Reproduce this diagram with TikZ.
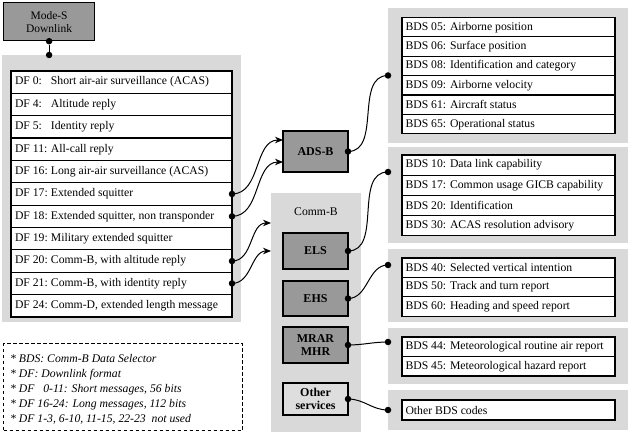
\documentclass[tikz,border=0pt]{standalone}
\usepackage{fontspec}
\setmainfont{Liberation Serif}
\usetikzlibrary{arrows.meta}
\definecolor{panelgray}{HTML}{D9D9D9}
\definecolor{boxgray}{HTML}{999999}
\definecolor{othergray}{HTML}{DEDEDE}
\begin{document}
\begin{tikzpicture}[x=1pt,y=-1pt,font=\fontsize{11.7}{14}\selectfont,
  panel/.style={fill=panelgray,inner sep=0pt,outer sep=0pt,anchor=north west},
  dfrow/.style={draw,line width=1.2pt,fill=white,anchor=north west,inner xsep=4pt,inner ysep=0pt,outer sep=0pt,
    minimum width=221pt,minimum height=22.36pt},
  bdsrow/.style={draw,line width=1.2pt,fill=white,anchor=north west,inner xsep=3.5pt,inner ysep=0pt,outer sep=0pt,
    minimum width=213pt,minimum height=#1},
  darkbox/.style={draw,line width=1.2pt,fill=boxgray,anchor=north west,inner sep=0pt,outer sep=0pt,
    minimum width=65pt,align=center,font=\fontsize{12}{13}\selectfont\bfseries},
  dotnode/.style={circle,fill=black,inner sep=0pt,minimum size=6.5pt},
  link/.style={line width=1pt},
  arr/.style={line width=1pt,-{Stealth[length=8pt,width=6.5pt]}}]
\useasboundingbox (0,0) rectangle (631,435);

% ---- Mode-S
\node[draw,line width=1.2pt,fill=boxgray,anchor=north west,minimum width=91pt,minimum height=38pt,
  inner sep=0pt,align=center,font=\fontsize{11.5}{13}\selectfont] (modes) at (3,2) {Mode-S\\Downlink};

% ---- left panel with DF rows
\node[panel,minimum width=239pt,minimum height=267pt] (dfpanel) at (2,55) {};
\foreach \txt [count=\i from 0] in {
  {\makebox[36pt][l]{DF 0:}Short air-air surveillance (ACAS)},
  {\makebox[36pt][l]{DF 4:}Altitude reply},
  {\makebox[36pt][l]{DF 5:}Identity reply},
  {\makebox[36pt][l]{DF 11:}All-call reply},
  {\makebox[36pt][l]{DF 16:}Long air-air surveillance (ACAS)},
  {\makebox[36pt][l]{DF 17:}Extended squitter},
  {\makebox[36pt][l]{DF 18:}Extended squitter, non transponder},
  {\makebox[36pt][l]{DF 19:}Military extended squitter},
  {\makebox[36pt][l]{DF 20:}Comm-B, with altitude reply},
  {\makebox[36pt][l]{DF 21:}Comm-B, with identity reply},
  {\makebox[36pt][l]{DF 24:}Comm-D, extended length message}}
  \node[dfrow] (df\i) at (11,{71+\i*22.36}) {\makebox[213pt][l]{\txt}};

\node[dotnode] (mdot1) at (modes.south) {};
\node[dotnode] (mdot2) at (modes.south |- dfpanel.north) {};
\draw[link] (mdot1) -- (mdot2);

% ---- legend
\node[draw,dashed,dash pattern=on 3.5pt off 2.5pt,line width=1pt,anchor=north west,minimum width=239pt,
  minimum height=87pt,inner sep=0pt] (legendbox) at (3,343) {};
\node[anchor=north west,align=left,inner sep=0pt,font=\fontsize{11.7}{15}\selectfont\itshape] (legendtext) at (10,354) {%
* BDS: Comm-B Data Selector\\
* DF: Downlink format\\
* DF \phantom{1}0-11: Short messages, 56 bits\\
* DF 16-24: Long messages, 112 bits\\
* DF 1-3, 6-10, 11-15, 22-23\ \ not used};

% ---- ADS-B
\node[darkbox,minimum height=41pt] (ads) at (283,131) {ADS-B};

% ---- Comm-B panel
\node[panel,minimum width=90pt,minimum height=239pt] (commb) at (271,193) {};
\node (commblabel) at (316,212) {Comm-B};
\node[darkbox,minimum height=36pt] (els) at (283,233) {ELS};
\node[darkbox,minimum height=35pt] (ehs) at (283,281) {EHS};
\node[darkbox,minimum height=36pt] (mrar) at (283,327) {MRAR\\MHR};
\node[darkbox,fill=othergray,minimum height=32pt] (other) at (283,383) {Other\\services};

% ---- right panels
\node[panel,minimum width=240pt,minimum height=135pt] (p1) at (388,8) {};
\foreach \txt [count=\i from 0] in {
  {BDS 05: Airborne position},{BDS 06: Surface position},{BDS 08: Identification and category},
  {BDS 09: Airborne velocity},{BDS 61: Aircraft status},{BDS 65: Operational status}}
  \node[bdsrow=19.4pt] (ba\i) at (402,{17.5+\i*19.4}) {\makebox[206pt][l]{\txt}};

\node[panel,minimum width=240pt,minimum height=96pt] (p2) at (388,147) {};
\foreach \txt [count=\i from 0] in {
  {BDS 10: Data link capability},{BDS 17: Common usage GICB capability},
  {BDS 20: Identification},{BDS 30: ACAS resolution advisory}}
  \node[bdsrow=20.2pt] (bb\i) at (402,{155+\i*20.2}) {\makebox[206pt][l]{\txt}};

\node[panel,minimum width=240pt,minimum height=73pt] (p3) at (388,249) {};
\foreach \txt [count=\i from 0] in {
  {BDS 40: Selected vertical intention},{BDS 50: Track and turn report},{BDS 60: Heading and speed report}}
  \node[bdsrow=19.4pt] (bc\i) at (402,{258+\i*19.4}) {\makebox[206pt][l]{\txt}};

\node[panel,minimum width=240pt,minimum height=56pt] (p4) at (388,328) {};
\foreach \txt [count=\i from 0] in {
  {BDS 44: Meteorological routine air report},{BDS 45: Meteorological hazard report}}
  \node[bdsrow=19.5pt] (bd\i) at (402,{337+\i*19.5}) {\makebox[206pt][l]{\txt}};

\node[panel,minimum width=240pt,minimum height=40pt] (p5) at (388,390) {};
\node[bdsrow=20pt] (be0) at (402,400) {\makebox[206pt][l]{Other BDS codes}};

% ---- connector end points
\coordinate (adsin1) at ([yshift=11.5pt]ads.west);
\coordinate (adsin2) at ([yshift=-10.5pt]ads.west);
\coordinate (commbin1) at ([yshift=-30pt]commb.north west);
\coordinate (commbin2) at ([yshift=-58pt]commb.north west);

% ---- dots
\node[dotnode] (d17) at (df5.east) {};
\node[dotnode] (d18) at (df6.east) {};
\node[dotnode] (d20) at (df8.east) {};
\node[dotnode] (d21) at (df9.east) {};
\node[dotnode] (dads) at (ads.east) {};
\node[dotnode] (dels) at (els.east) {};
\node[dotnode] (dehs) at (ehs.east) {};
\node[dotnode] (dmrar) at (mrar.east) {};
\node[dotnode] (dother) at (other.east) {};
\node[dotnode] (dp1) at (p1.west) {};
\node[dotnode] (dp2) at ([yshift=-25pt]p2.north west) {};
\node[dotnode] (dp3) at ([yshift=-16pt]p3.north west) {};
\node[dotnode] (dp4) at ([yshift=-14pt]p4.north west) {};
\node[dotnode] (dp5) at (p5.west) {};

% ---- connectors
\draw[arr] (d17.center) to[out=0,in=180] (adsin1);
\draw[arr] (d18.center) to[out=0,in=180] (adsin2);
\draw[arr] (d20.center) to[out=0,in=180] (commbin1);
\draw[arr] (d21.center) to[out=0,in=180] (commbin2);
\draw[link] (dads.center) to[out=0,in=180] (dp1.center);
\draw[link] (dels.center) to[out=0,in=180] (dp2.center);
\draw[link] (dehs.center) to[out=0,in=180] (dp3.center);
\draw[link] (dmrar.center) to[out=0,in=180] (dp4.center);
\draw[link] (dother.center) to[out=0,in=180] (dp5.center);
\end{tikzpicture}
\end{document}
